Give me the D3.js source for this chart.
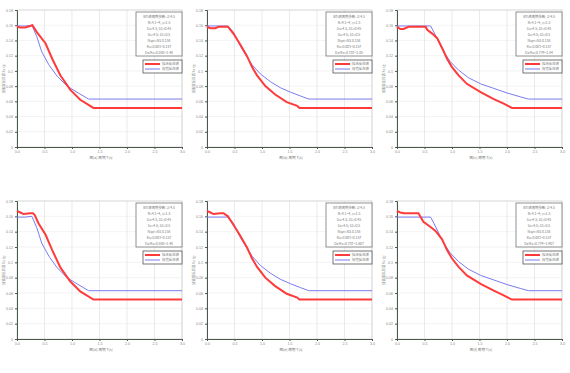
<!DOCTYPE html>
<html>
<head>
<meta charset="utf-8">
<script src="https://cdn.jsdelivr.net/npm/d3@7"></script>
<style>
  body { margin: 0; background: #fff; }
  svg { display: block; font-family: "Noto Sans CJK SC", "DejaVu Sans", sans-serif; }
</style>
</head>
<body>
<script>
'use strict';

// period T (s) and spectral value pairs
let xTicks = [0, 0.5, 1.0, 1.5, 2.0, 2.5, 3.0];
let yTicks = [0, 0.02, 0.04, 0.06, 0.08, 0.1, 0.12, 0.14, 0.16, 0.18];

let fitA = [[0,0.158],[0.06,0.157],[0.15,0.157],[0.24,0.159],[0.28,0.160],[0.36,0.151],[0.52,0.136],[0.64,0.116],[0.79,0.094],[0.97,0.075],[1.15,0.062],[1.39,0.0514],[3.0,0.0514]];
let fitB = [[0,0.158],[0.06,0.156],[0.15,0.156],[0.21,0.158],[0.36,0.158],[0.38,0.158],[0.48,0.149],[0.61,0.134],[0.73,0.119],[0.82,0.105],[0.91,0.094],[1.06,0.080],[1.24,0.069],[1.45,0.059],[1.64,0.054],[1.68,0.0514],[3.0,0.0514]];
let fitC = [[0,0.158],[0.06,0.155],[0.12,0.155],[0.21,0.158],[0.52,0.158],[0.55,0.154],[0.64,0.149],[0.73,0.143],[0.82,0.130],[0.91,0.116],[1.0,0.105],[1.12,0.094],[1.27,0.083],[1.52,0.072],[1.76,0.063],[1.94,0.057],[2.09,0.0514],[3.0,0.0514]];
let fitD = [[0,0.167],[0.06,0.165],[0.12,0.163],[0.24,0.164],[0.29,0.164],[0.32,0.162],[0.39,0.151],[0.52,0.136],[0.64,0.116],[0.79,0.093],[0.97,0.075],[1.15,0.062],[1.39,0.0514],[3.0,0.0514]];
let fitE = [[0,0.167],[0.06,0.165],[0.12,0.163],[0.24,0.164],[0.3,0.164],[0.38,0.160],[0.48,0.149],[0.61,0.134],[0.73,0.119],[0.82,0.105],[0.91,0.094],[1.06,0.080],[1.24,0.069],[1.45,0.059],[1.64,0.054],[1.68,0.0514],[3.0,0.0514]];
let fitF = [[0,0.167],[0.06,0.165],[0.12,0.164],[0.39,0.164],[0.48,0.153],[0.61,0.146],[0.70,0.141],[0.82,0.130],[0.91,0.116],[1.0,0.105],[1.12,0.094],[1.27,0.083],[1.52,0.072],[1.76,0.063],[1.94,0.057],[2.09,0.0514],[3.0,0.0514]];

let codeA = [[0,0.159],[0.15,0.159],[0.27,0.160],[0.36,0.145],[0.45,0.125],[0.58,0.108],[0.73,0.093],[0.91,0.080],[1.09,0.072],[1.30,0.063],[3.0,0.063]];
let codeB = [[0,0.159],[0.38,0.159],[0.48,0.151],[0.61,0.132],[0.73,0.118],[0.82,0.108],[0.97,0.096],[1.15,0.086],[1.33,0.078],[1.52,0.072],[1.70,0.067],[1.85,0.063],[3.0,0.063]];
let codeC = [[0,0.159],[0.61,0.159],[0.67,0.151],[0.76,0.138],[0.85,0.125],[0.97,0.112],[1.12,0.101],[1.30,0.091],[1.52,0.083],[1.76,0.077],[2.0,0.071],[2.24,0.066],[2.39,0.063],[3.0,0.063]];

let captions = ['(a)', '(b)', '(c)', '(d)', '(e)', '(f)'];
let ratioText = ['0.808~1.48', '0.707~1.05', '0.779~1.84', '0.808~1.48', '0.707~1.607', '0.779~1.907'];
let legendNames = ['拟合反应谱', '规范反应谱'];

let panels = [
  { fit: fitA, code: codeA }, { fit: fitB, code: codeB }, { fit: fitC, code: codeC },
  { fit: fitD, code: codeA }, { fit: fitE, code: codeB }, { fit: fitF, code: codeC }
];

let width = 570;
let height = 373;

let svg = d3.select('body').append('svg')
  .attr('width', width)
  .attr('height', height);

let x = d3.scaleLinear().domain([0, 3]).range([17, 182]);

panels.forEach(function(p, i) {
  let col = i % 3;
  let row = Math.floor(i / 3);
  let top = row === 0 ? 10 : 201;
  let bottom = row === 0 ? 147 : 339;
  let y = d3.scaleLinear().domain([0, 0.18]).range([bottom, top]);

  let g = svg.append('g').attr('transform', 'translate(' + (col * 190) + ',0)');

  // grid
  g.selectAll('.vg').data(xTicks.slice(1)).enter().append('line')
    .attr('x1', d => x(d)).attr('x2', d => x(d))
    .attr('y1', top).attr('y2', bottom)
    .attr('stroke', '#dcdcdc').attr('stroke-width', 0.6);
  g.selectAll('.hg').data(yTicks.slice(1)).enter().append('line')
    .attr('x1', x(0)).attr('x2', x(3))
    .attr('y1', d => y(d)).attr('y2', d => y(d))
    .attr('stroke', '#e6e6e6').attr('stroke-width', 0.5);

  g.append('rect')
    .attr('x', x(0)).attr('y', top)
    .attr('width', x(3) - x(0)).attr('height', bottom - top)
    .attr('fill', 'none').attr('stroke', '#c8c8c8').attr('stroke-width', 0.6);

  let xAxis = g.append('g').attr('transform', 'translate(0,' + bottom + ')')
    .call(d3.axisBottom(x).tickValues(xTicks).tickFormat(d3.format('.1f')).tickSize(2).tickPadding(1.5));
  let yAxis = g.append('g').attr('transform', 'translate(' + x(0) + ',0)')
    .call(d3.axisLeft(y).tickValues(yTicks).tickFormat(d => d === 0 ? '0' : d3.format('.2~f')(d)).tickSize(2).tickPadding(2));
  [xAxis, yAxis].forEach(function(a) {
    a.select('.domain').attr('stroke', '#4a5a4a').attr('stroke-width', 1);
    a.selectAll('.tick line').attr('stroke', '#4a5a4a');
    a.selectAll('text').attr('font-size', 3.6).attr('fill', '#888');
  });

  let line = d3.line().x(d => x(d[0])).y(d => y(d[1]));

  g.append('path').datum(p.code)
    .attr('d', line).attr('fill', 'none')
    .attr('stroke', '#7b7bf0').attr('stroke-width', 1);
  g.append('path').datum(p.fit)
    .attr('d', line).attr('fill', 'none')
    .attr('stroke', '#ff3a3a').attr('stroke-width', 2);

  // axis titles
  g.append('text')
    .attr('x', 101).attr('y', bottom + 12)
    .attr('text-anchor', 'middle').attr('font-size', 3.6).attr('fill', '#777')
    .text('图' + captions[i] + '      周期 T(s)');
  g.append('text')
    .attr('transform', 'translate(5,' + ((top + bottom) / 2) + ') rotate(-90)')
    .attr('text-anchor', 'middle').attr('font-size', 3.4).attr('fill', '#888')
    .text('加速度反应谱 Sa (g)');

  // parameter box
  let info = ['BTI谱周期参数: 2/4.5', 'R=4.1~4, γ=1.5', 'Ss=4.5, S1=0.45',
    'Ss=4.5; S1=0.5', 'Nspt=NS 0.158', 'Ks=0.003~0.157', 'Dz/Ks=' + ratioText[i]];
  let bx = 136, by = top + 2;
  g.append('rect').attr('x', bx).attr('y', by).attr('width', 46).attr('height', 44)
    .attr('fill', '#fff').attr('stroke', '#777').attr('stroke-width', 0.8);
  g.selectAll('.info').data(info).enter().append('text')
    .attr('x', bx + 23).attr('y', (d, k) => by + 6 + k * 6)
    .attr('text-anchor', 'middle').attr('font-size', 3.4).attr('fill', '#777')
    .text(d => d);

  // legend
  let lx = 143, ly = top + 50;
  g.append('rect').attr('x', lx).attr('y', ly).attr('width', 39).attr('height', 13)
    .attr('fill', '#fff').attr('stroke', '#555').attr('stroke-width', 0.8);
  [['#ff3a3a', 2], ['#7b7bf0', 1]].forEach(function(s, k) {
    g.append('line').attr('x1', lx + 2).attr('x2', lx + 17)
      .attr('y1', ly + 4 + k * 5).attr('y2', ly + 4 + k * 5)
      .attr('stroke', s[0]).attr('stroke-width', s[1]);
    g.append('text').attr('x', lx + 19).attr('y', ly + 5.3 + k * 5)
      .attr('font-size', 3.4).attr('fill', '#777').text(legendNames[k]);
  });
});
</script>
</body>
</html>
